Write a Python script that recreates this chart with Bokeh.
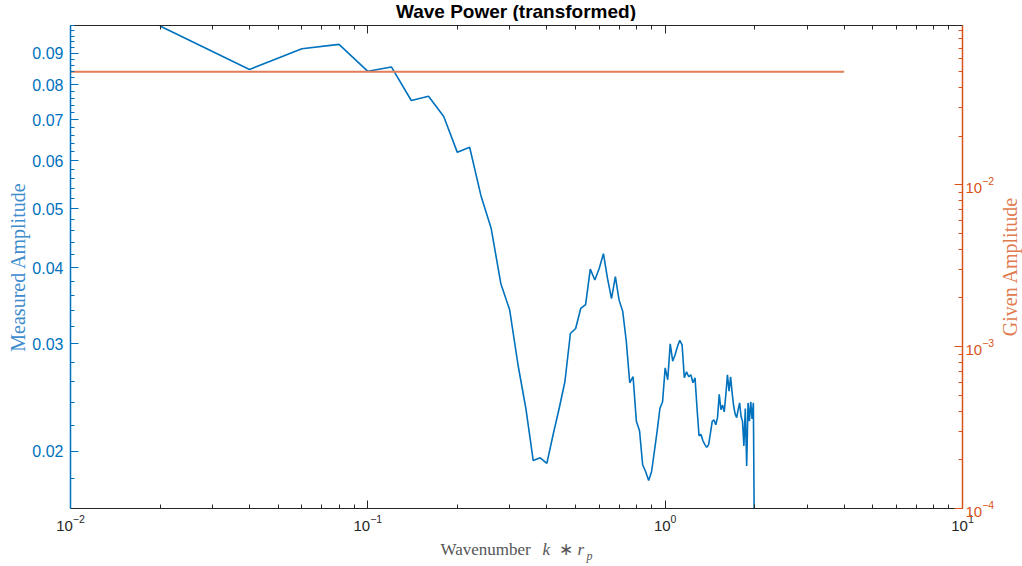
from math import pi

from bokeh.core.properties import value
from bokeh.embed import file_html
from bokeh.layouts import column, row
from bokeh.models import (CustomJSTickFormatter, FixedTicker, LogAxis,
                          LogScale, PrintfTickFormatter, Range1d)
from bokeh.plotting import figure
from bokeh.resources import INLINE

# Measured wave amplitude against wavenumber k*r_p
wavenumber = [
    0.02, 0.04, 0.06, 0.08, 0.10, 0.12, 0.14, 0.16, 0.18, 0.20,
    0.22, 0.24, 0.26, 0.28, 0.30, 0.32, 0.34, 0.36, 0.38, 0.40,
    0.42, 0.44, 0.46, 0.48, 0.50, 0.52, 0.54, 0.56, 0.58, 0.60,
    0.62, 0.64, 0.66, 0.68, 0.70, 0.72, 0.74, 0.76, 0.78, 0.80,
    0.82, 0.84, 0.86, 0.88, 0.90, 0.92, 0.94, 0.96, 0.98, 1.00,
    1.02, 1.04, 1.06, 1.08, 1.10, 1.12, 1.14, 1.16, 1.18, 1.20,
    1.22, 1.24, 1.26, 1.28, 1.30, 1.32, 1.34, 1.36, 1.38, 1.40,
    1.42, 1.44, 1.46, 1.48, 1.50, 1.52, 1.54, 1.56, 1.58, 1.60,
    1.62, 1.64, 1.66, 1.68, 1.70, 1.72, 1.74, 1.76, 1.78, 1.80,
    1.82, 1.84, 1.86, 1.88, 1.90, 1.92, 1.94, 1.96, 1.98, 2.00,
]
measured = [
    0.0998, 0.0847, 0.0916, 0.0931, 0.0841, 0.0855, 0.0753, 0.0765, 0.0709, 0.0619,
    0.0631, 0.0526, 0.0464, 0.0377, 0.0341, 0.0277, 0.0235, 0.0193, 0.0195, 0.0191,
    0.0213, 0.0235, 0.0260, 0.0312, 0.0318, 0.0343, 0.0348, 0.0398, 0.0382, 0.0399,
    0.0422, 0.0384, 0.0356, 0.0387, 0.0354, 0.0339, 0.0303, 0.0259, 0.0265, 0.0224,
    0.0216, 0.0190, 0.0185, 0.0179, 0.0185, 0.0200, 0.0216, 0.0235, 0.0241, 0.0274,
    0.0262, 0.0300, 0.0281, 0.0288, 0.0297, 0.0304, 0.0299, 0.0264, 0.0270, 0.0265,
    0.0267, 0.0259, 0.0264, 0.0235, 0.0212, 0.0213, 0.0208, 0.0205, 0.0203, 0.0205,
    0.0214, 0.0224, 0.0225, 0.0221, 0.0227, 0.0248, 0.0234, 0.0238, 0.0232, 0.0248,
    0.0267, 0.0251, 0.0265, 0.0249, 0.0237, 0.0230, 0.0227, 0.0234, 0.0240, 0.0228,
    0.0224, 0.0204, 0.0235, 0.0189, 0.0240, 0.0224, 0.0241, 0.0226, 0.0240, 0.0120,
]

# Prescribed (given) amplitude over the wavenumber band
given_k = [0.01, 4.0]
given_amp = [0.05, 0.05]

# Axis ticks
x_major = [0.01, 0.1, 1.0, 10.0]
left_major = [0.02, 0.03, 0.04, 0.05, 0.06, 0.07, 0.08, 0.09]
right_major = [1e-4, 1e-3, 1e-2]

BLUE = "#0072BD"
ORANGE = "#D95319"
AXIS_GREY = "#262626"
SERIF = "Liberation Serif"

MAIN_W = 998
FRAME_L = 70
FRAME_R = 962
TITLE_H = 21
XLAB_H = 28
SIDE_W = 24
TOTAL_H = 566


def decade_minors(lo_exp, hi_exp):
    out = []
    for e in range(lo_exp, hi_exp):
        for m in range(2, 10):
            out.append(m * 10.0 ** e)
    return out


x_minor = decade_minors(-2, 1)
left_minor = [round(0.016 + 0.002 * i, 3) for i in range(43)]
right_minor = decade_minors(-4, -1)

p = figure(
    width=MAIN_W, height=TOTAL_H - TITLE_H - XLAB_H,
    x_axis_type="log", y_axis_type="log",
    x_range=Range1d(0.01, 10.0), y_range=Range1d(0.0161, 0.1),
    output_backend="svg", toolbar_location=None,
    min_border_left=FRAME_L, min_border_right=MAIN_W - FRAME_R,
    min_border_top=2, min_border_bottom=30,
)
p.background_fill_color = "white"
p.border_fill_color = "white"
p.outline_line_color = None
p.grid.visible = False


def style_ticks(ax, color):
    ax.axis_line_color = color
    ax.major_tick_line_color = color
    ax.minor_tick_line_color = color
    ax.major_tick_in = 8
    ax.major_tick_out = 0
    ax.minor_tick_in = 4
    ax.minor_tick_out = 0


# bottom axis
xa = p.xaxis[0]
xa.ticker = FixedTicker(ticks=x_major, minor_ticks=x_minor)
style_ticks(xa, AXIS_GREY)
xa.major_label_text_font = "Liberation Sans"
xa.major_label_text_font_size = "15px"
xa.major_label_text_color = AXIS_GREY
xa.major_label_standoff = 6

# top box edge with ticks, unlabeled
top = LogAxis(ticker=FixedTicker(ticks=x_major, minor_ticks=x_minor),
              formatter=CustomJSTickFormatter(code="return ' '"))
style_ticks(top, AXIS_GREY)
top.major_label_text_font_size = "1px"
top.major_label_standoff = 0
p.add_layout(top, "above")

# left axis: measured amplitude
ya = p.yaxis[0]
ya.ticker = FixedTicker(ticks=left_major, minor_ticks=left_minor)
ya.formatter = PrintfTickFormatter(format="%.2f")
style_ticks(ya, BLUE)
ya.axis_line_width = 1.5
ya.major_label_text_font = "Liberation Sans"
ya.major_label_text_font_size = "16px"
ya.major_label_text_color = BLUE
ya.major_label_standoff = 7
ya.axis_label = "Measured Amplitude"
ya.axis_label_text_font = SERIF
ya.axis_label_text_font_style = "normal"
ya.axis_label_text_font_size = "20px"
ya.axis_label_text_color = "#3d8ccc"
ya.axis_label_standoff = 0

# right axis: given amplitude
p.extra_y_ranges = {"given": Range1d(1e-4, 0.0966)}
p.extra_y_scales = {"given": LogScale()}
ra = LogAxis(y_range_name="given",
             ticker=FixedTicker(ticks=right_major, minor_ticks=right_minor))
style_ticks(ra, ORANGE)
ra.axis_line_width = 1.5
ra.major_label_text_font = "Liberation Sans"
ra.major_label_text_font_size = "15px"
ra.major_label_text_color = ORANGE
ra.major_label_standoff = 3
p.add_layout(ra, "right")

# data
p.line(wavenumber, measured, line_color=BLUE, line_width=1.6)
p.line(given_k, given_amp, y_range_name="given",
       line_color="#E47D58", line_width=2)


def text_strip(width, height, x0=0, x1=None):
    f = figure(width=width, height=height,
               x_range=Range1d(x0, width if x1 is None else x1),
               y_range=Range1d(0, height),
               x_axis_location=None, y_axis_location=None,
               output_backend="svg", toolbar_location=None,
               min_border=0, min_border_left=0, min_border_right=0,
               min_border_top=0, min_border_bottom=0)
    f.grid.visible = False
    f.outline_line_color = None
    f.background_fill_color = "white"
    f.border_fill_color = "white"
    return f


# title (strip frame lines up with the plot frame, so x is in page pixels)
head = text_strip(MAIN_W, TITLE_H, FRAME_L, FRAME_R)
head.text(x=[515.5], y=[TITLE_H - 11], text=["Wave Power (transformed)"],
          text_font=value("Liberation Sans"), text_font_size="19px",
          text_font_style="bold", text_color="#000000",
          text_align="center", text_baseline="middle")

# x-axis label: "Wavenumber k * r_p" with italic math symbols
xlab = text_strip(MAIN_W, XLAB_H, FRAME_L, FRAME_R)
for txt, xs, ys, size, style, align in [
    ("Wavenumber", 440, 17, "17px", "normal", "left"),
    ("k", 542, 17, "17px", "italic", "left"),
    ("\u2217", 565, 17, "17px", "normal", "center"),
    ("r", 577, 17, "17px", "italic", "left"),
    ("p", 586, 11, "12px", "italic", "left"),
]:
    xlab.text(x=[xs], y=[ys], text=[txt], text_font=value(SERIF),
              text_font_size=size, text_font_style=style,
              text_color="#555555", text_align=align,
              text_baseline="middle")

# right-hand axis label, reading bottom to top
ylab = text_strip(SIDE_W, TOTAL_H)
ylab.text(x=[11.5], y=[TOTAL_H - 266], text=["Given Amplitude"], angle=pi / 2,
          text_font=value(SERIF), text_font_size="20px",
          text_color="#E07B4F", text_align="center", text_baseline="middle")

layout = row(column(head, p, xlab, spacing=0), ylab, spacing=0)
open("out.html", "w").write(file_html(layout, INLINE))
